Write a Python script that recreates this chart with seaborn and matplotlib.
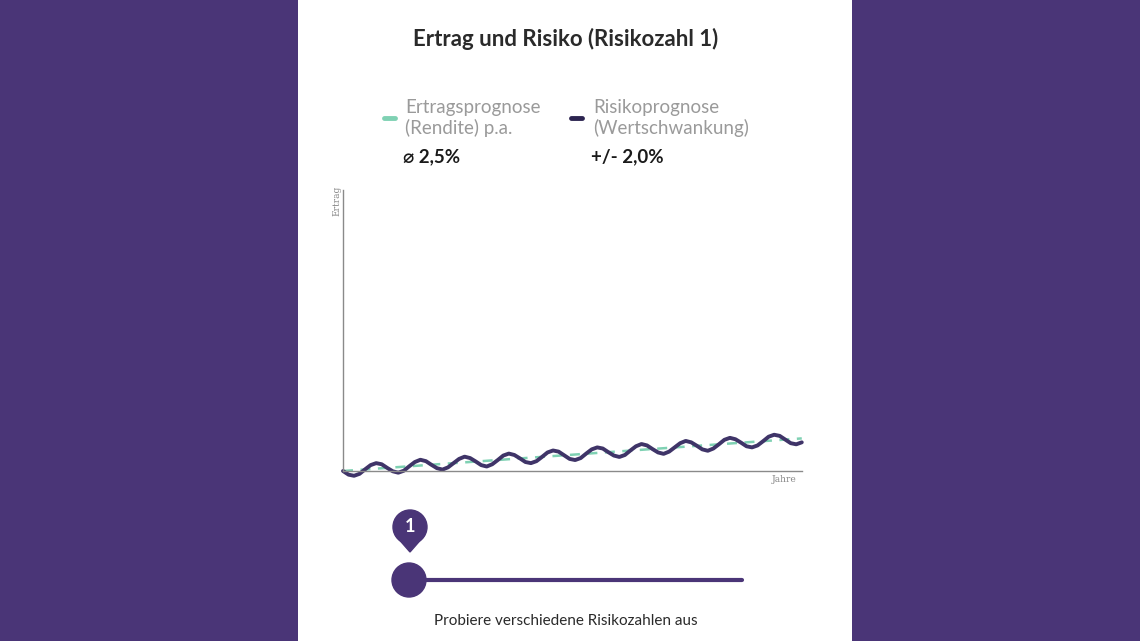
import numpy as np
import pandas as pd
import seaborn as sns
import matplotlib.pyplot as plt
from matplotlib.patches import Rectangle, Circle, Polygon

# wave (risk) sampled every 1/8 year, trend (return) as straight dashed line
risk_y = [0, -1.3, -1.7, -1.0, 0.6, 2.1, 2.8, 2.4, 1.1, -0.1, -0.6, 0.1, 1.7, 3.2, 4.0, 3.5,
          2.2, 1.0, 0.5, 1.3, 2.8, 4.3, 5.1, 4.6, 3.4, 2.1, 1.6, 2.4, 3.9, 5.5, 6.2, 5.7,
          4.5, 3.2, 2.8, 3.5, 5.0, 6.6, 7.3, 6.9, 5.6, 4.3, 3.9, 4.6, 6.2, 7.7, 8.4, 8.0,
          6.7, 5.5, 5.0, 5.7, 7.3, 8.8, 9.6, 9.1, 7.8, 6.6, 6.1, 6.9, 8.4, 9.9, 10.7, 10.2,
          9.0, 7.7, 7.2, 8.0, 9.5, 11.1, 11.8, 11.3, 10.1, 8.8, 8.4, 9.1, 10.6, 12.2, 12.9, 12.5,
          11.2, 9.9, 9.5, 10.2]
risk_x = [k / 8 for k in range(len(risk_y))]
trend_x = [0, 10.375]
trend_y = [0, 11.6]

title = "Ertrag und Risiko (Risikozahl 1)"
legend_names = ["Ertragsprognose\n(Rendite) p.a.", "Risikoprognose\n(Wertschwankung)"]
legend_values = ["\u2300 2,5%", "+/- 2,0%"]
legend_colors = ["#7fd1b3", "#2c2450"]
slider_value = "1"

sns.set_theme(style="white")
plt.rcParams['font.family'] = ['Lato', 'DejaVu Sans']

purple = "#4a3577"
wave_c = "#3f3468"

fig = plt.figure(figsize=(11.4, 6.41), dpi=100)
fig.patch.set_facecolor(purple)

# background axes: white panel, slider and bottom text
sx = fig.add_axes([0, 0, 1, 1], facecolor="none", zorder=0)
sx.set_xlim(0, 1140)
sx.set_ylim(641, 0)
sx.axis("off")
sx.add_patch(Rectangle((298, 0), 554, 641, facecolor="white", edgecolor="none", zorder=0))
sx.plot([409, 742], [580, 580], color=purple, linewidth=3, zorder=1)
sx.add_patch(Circle((409, 580), 17, color=purple, zorder=2))
sx.add_patch(Circle((410, 527), 17, color=purple, zorder=2))
sx.add_patch(Polygon([[396, 536], [424, 536], [410, 552]], color=purple, zorder=2))
sx.text(410, 527, slider_value, ha="center", va="center", fontsize=13,
        fontweight="bold", color="white", zorder=3)
sx.text(566, 621, "Probiere verschiedene Risikozahlen aus", ha="center", va="center",
        fontsize=11, color="#2a2a2a")

sx.text(566, 39, title, ha="center", va="center", fontsize=16,
        fontweight="bold", color="#2a2a2a")
for i, (nx, mx) in enumerate([(405, 384), (593, 571)]):
    sx.text(nx, 118, legend_names[i], ha="left", va="center",
            fontsize=13.5, color="#9a9a9a", linespacing=1.25)
    sx.text(nx - 2, 157, legend_values[i], ha="left", va="center",
            fontsize=13.5, fontweight="bold", color="#1a1a1a")
    sx.plot([mx, mx + 11], [118, 118], color=legend_colors[i], linewidth=3.5,
            solid_capstyle="round")
sx.text(337, 201, "Ertrag", rotation=90, ha="center", va="center",
        family="DejaVu Serif", fontsize=6.5, color="#888888")
sx.text(784, 479, "Jahre", ha="center", va="center",
        family="DejaVu Serif", fontsize=6.5, color="#888888")

ax = fig.add_axes([343 / 1140, 1 - 471 / 641, (802 - 343) / 1140, (471 - 190) / 641], zorder=2)
ax.set_facecolor("none")
sns.lineplot(x=trend_x, y=trend_y, ax=ax, color=legend_colors[0], linewidth=1.8,
             linestyle=(0, (4, 3)), clip_on=False)
sns.lineplot(x=risk_x, y=risk_y, ax=ax, color=wave_c, linewidth=2.8, clip_on=False)
ax.set_xlim(0, 10.38)
ax.set_ylim(0, 100)
ax.set_xticks([])
ax.set_yticks([])
for s in ["top", "right"]:
    ax.spines[s].set_visible(False)
for s in ["left", "bottom"]:
    ax.spines[s].set_color("#8a8a8a")
    ax.spines[s].set_linewidth(1.0)

fig.savefig("out.png", dpi=100, facecolor=fig.get_facecolor())
